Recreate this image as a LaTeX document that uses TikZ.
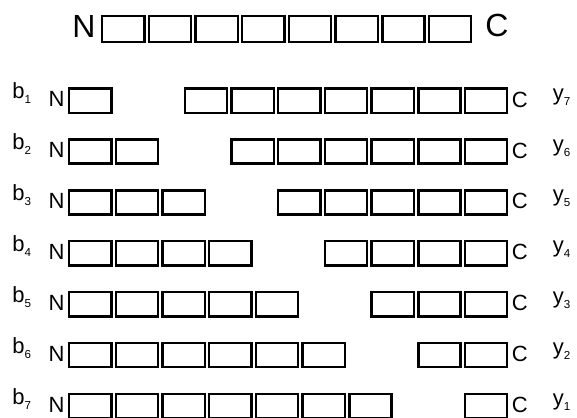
\documentclass[tikz,border=0pt]{standalone}
\usepackage{fontspec}
\setmainfont{Liberation Sans}
\usetikzlibrary{positioning}

\tikzset{
  cell/.style={draw, line width=1.2pt, minimum width=21.1pt, minimum height=12.1pt, inner sep=0pt},
  topcell/.style={cell, minimum height=12.8pt},
  lab/.style={inner sep=0pt, font=\fontsize{11pt}{13pt}\selectfont},
  toplab/.style={inner sep=0pt, font=\fontsize{16pt}{19pt}\selectfont}
}
\newcommand{\sublab}[2]{#1\raisebox{-2.5pt}{\fontsize{5.8pt}{6pt}\selectfont #2}}

\begin{document}
\begin{tikzpicture}[x=0.5pt, y=-0.5pt]
  \useasboundingbox (0,0) rectangle (577,417);
  % whole chain
  \foreach \i in {1,...,8}
    \node[topcell] (t\i) at ({123.25+46.7*(\i-1)}, 29) {};
  \node[toplab, anchor=base east] (tn) at ([xshift=-2.5pt, yshift=2.5pt]t1.south west) {N};
  \node[toplab, anchor=base west] (tc) at ([xshift=6.3pt, yshift=3pt]t8.south east) {C};
  % cut chains
  \foreach \k in {1,...,7} {
    \pgfmathsetmacro{\yy}{100.6+50.9*(\k-1)}
    \pgfmathtruncatemacro{\kn}{\k+1}
    \pgfmathtruncatemacro{\kk}{8-\k}
    \foreach \i in {1,...,\k}
      \node[cell] (l\k-\i) at ({90.25+46.7*(\i-1)}, \yy) {};
    \foreach \m in {\kn,...,8}
      \node[cell] (r\k-\m) at ({159.25+46.7*(\m-1)}, \yy) {};
    \node[lab, anchor=base east] (n\k) at ([xshift=-1.5pt, yshift=3.6pt]l\k-1.south west) {N};
    \node[lab, anchor=base west] (c\k) at ([xshift=1.5pt, yshift=3.4pt]r\k-8.south east) {C};
    \node[lab, anchor=base west] (b\k) at (12, {\yy-2}) {\sublab{b}{\k}};
    \node[lab, anchor=base west] (y\k) at (552.5, {\yy-0.5}) {\sublab{y}{\kk}};
  }
\end{tikzpicture}
\end{document}
